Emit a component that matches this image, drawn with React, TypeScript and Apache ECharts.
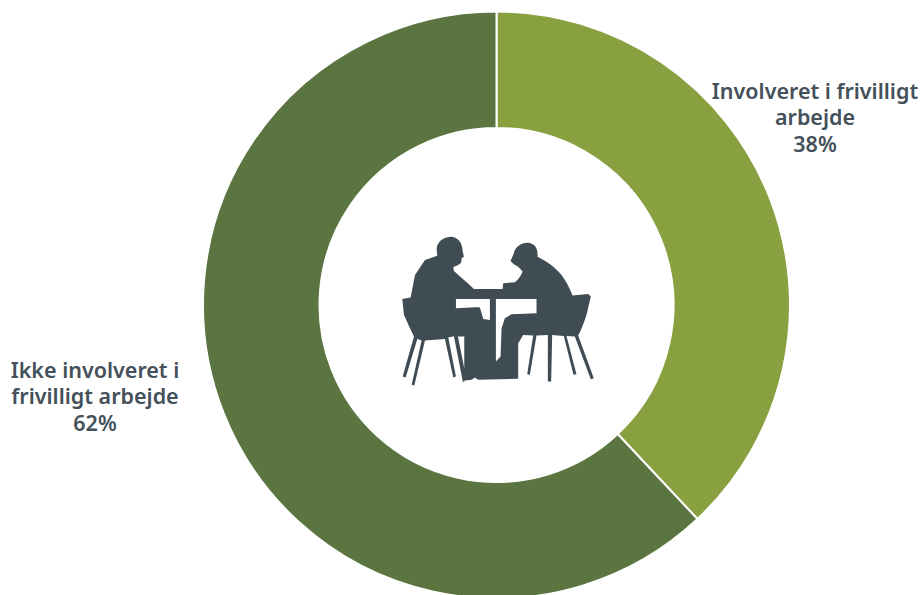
import React, { useEffect, useRef } from "react";
import * as echarts from "echarts";

const categories = ["Involveret i frivilligt\narbejde", "Ikke involveret i\nfrivilligt arbejde"];
const values = [38, 62];
const colors = ["#88a03f", "#5b7541"];

const silhouette =
  "M140,75 C140,50 160,35 185,35 C205,37 218,55 218,78 L222,95 L215,100 L214,112 C208,122 195,122 190,128 L192,138 C215,160 235,175 252,192 L338,192 L340,175 L375,172 C385,165 395,150 398,140 L385,125 L372,118 L362,108 L372,85 C375,65 395,52 415,53 C435,55 445,70 443,95 C470,110 490,120 515,150 C530,170 540,190 548,212 L595,207 L603,215 L590,270 C580,300 572,320 565,332 L612,460 L603,463 L555,335 L530,333 L560,448 L551,450 L522,333 L487,330 L484,470 L474,470 L474,330 L440,332 L420,450 L412,448 L430,332 L400,330 L385,355 L385,462 L265,465 L255,458 L245,465 L225,467 L219,472 L192,334 L175,338 L198,455 L190,458 L165,342 L105,347 L73,482 L65,480 L95,347 L82,342 L47,458 L38,455 L72,335 L60,310 L42,270 L37,222 L62,218 L75,150 L105,105 L142,92 Z " +
  "M198,222 L198,250 C225,250 250,245 270,248 L280,282 L300,285 L300,222 Z " +
  "M318,222 L318,410 L332,395 L335,310 L345,280 L365,268 L440,265 L440,222 Z " +
  "M204,335 L223,430 L223,335 Z";

echarts.graphic.registerShape("meeting", echarts.graphic.extendPath(silhouette as any, {}) as any);

export default function App() {
  const ref = useRef<HTMLDivElement>(null);
  useEffect(() => {
    const chart = echarts.init(ref.current!, undefined, { renderer: "svg" });
    const anchors = [
      { x: 815, y: 116.5 },
      { x: 95, y: 395.5 },
    ];
    chart.setOption({
      animation: false,
      series: [
        {
          type: "pie",
          center: [496.5, 305],
          radius: [177, 293.5],
          startAngle: 90,
          clockwise: true,
          silent: true,
          avoidLabelOverlap: false,
          itemStyle: { borderColor: "#ffffff", borderWidth: 2 },
          label: {
            show: true,
            formatter: "{b}\n{d}%",
            fontFamily: "Noto Sans",
            fontWeight: 600,
            fontSize: 21.5,
            lineHeight: 26.5,
            color: "#44505a",
            align: "center",
            overflow: "none",
            width: 300,
          },
          labelLine: { show: false },
          labelLayout: (p: any) => ({
            x: anchors[p.dataIndex].x,
            y: anchors[p.dataIndex].y,
            align: "center",
            verticalAlign: "middle",
          }),
          data: categories.map((name, i) => ({
            name,
            value: values[i],
            itemStyle: { color: colors[i] },
          })),
        },
      ],
      graphic: [
        {
          type: "meeting",
          x: 390,
          y: 225,
          scaleX: 1 / 3,
          scaleY: 1 / 3,
          silent: true,
          style: { fill: "#404c53" },
        },
      ],
    });
    return () => chart.dispose();
  }, []);
  return <div ref={ref} style={{ position: "absolute", left: 0, top: 0, width: 923, height: 595 }} />;
}
